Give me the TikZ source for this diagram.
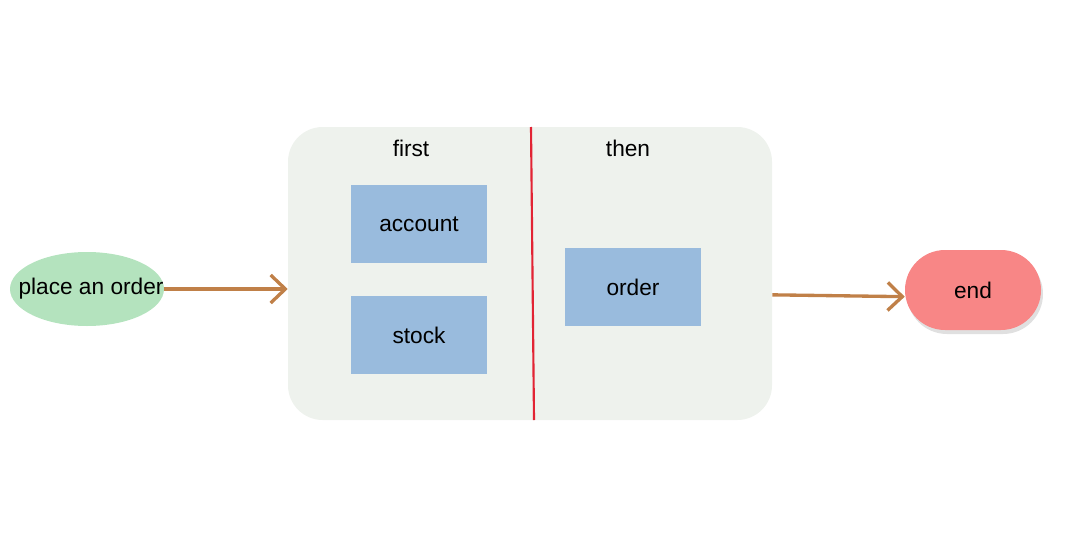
\documentclass[tikz,border=0pt]{standalone}
\usepackage{fontspec}
\setmainfont{Liberation Sans}
\usetikzlibrary{arrows.meta,shapes.geometric,shadows}

\definecolor{panelgray}{RGB}{238,242,237}
\definecolor{boxblue}{RGB}{153,187,221}
\definecolor{startgreen}{RGB}{180,227,190}
\definecolor{endred}{RGB}{248,134,134}
\definecolor{flowbrown}{RGB}{192,128,72}
\definecolor{splitred}{RGB}{226,36,52}

\tikzset{
    every node/.style={font=\fontsize{17}{20}\selectfont, text=black},
    taskbox/.style={rectangle, fill=boxblue, minimum width=102pt, minimum height=58.5pt, inner sep=0pt},
    flow/.style={draw=flowbrown, line width=2.5pt, -{Straight Barb[length=11pt,width=21pt,line width=2.5pt]}},
}

\begin{document}
\begin{tikzpicture}[x=0.75pt,y=0.75pt,yscale=-1,xscale=1]
    \useasboundingbox (0,0) rectangle (1080,546);

    %Shape: Rounded panel
    \node (panel) [rectangle, rounded corners=26pt, fill=panelgray, minimum width=363pt, minimum height=219.75pt, inner sep=0pt] at (530,273.5) {};
    %Straight Lines: split
    \coordinate (splittop) at (531,127);
    \coordinate (splitbot) at (534,420);
    \draw [draw=splitred, line width=1.6pt] (splittop) -- (splitbot);

    % Text Node
    \node (first) at (411,148) {first};
    % Text Node
    \node (then) at (628,148) {then};

    %Shape: Rectangle
    \node (account) [taskbox] at (419,224) {account};
    %Shape: Rectangle
    \node (stock) [taskbox] at (419,335) {stock};
    %Shape: Rectangle
    \node (order) [taskbox] at (633,287) {order};

    %Shape: Ellipse
    \node (place) [ellipse, fill=startgreen, minimum width=115.5pt, minimum height=55.5pt, inner xsep=-40pt, inner ysep=0pt] at (87,289) {\hspace*{6pt}place an order};
    %Shape: Rounded end
    \node (end) [rectangle, rounded corners=30pt, fill=endred, minimum width=102pt, minimum height=60pt, inner sep=0pt,
        drop shadow={shadow xshift=1.5pt, shadow yshift=-3pt, opacity=0.2, fill=black!60}] at (973,290) {end};

    %Straight Lines: arrows
    \draw [flow] (place.east) -- (place.east -| panel.west);
    \draw [flow] ([yshift=16pt]panel.east) -- ([yshift=5pt]end.west);

\end{tikzpicture}
\end{document}
